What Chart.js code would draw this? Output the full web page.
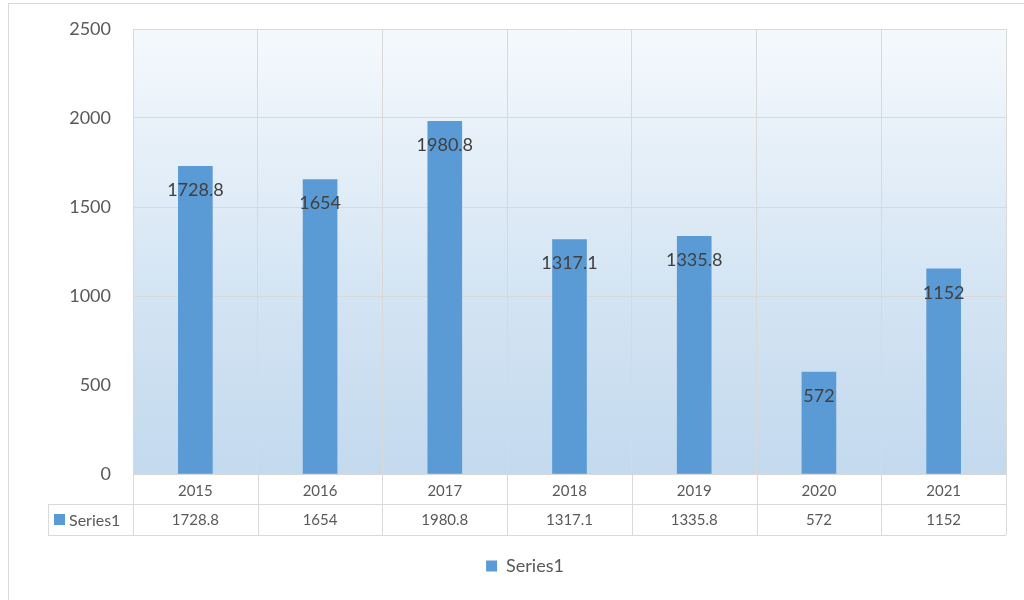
<!DOCTYPE html>
<html>
<head>
<meta charset="utf-8">
<script src="https://cdn.jsdelivr.net/npm/chart.js@4.4.0/dist/chart.umd.min.js"></script>
<style>
  body { margin: 0; background: #fff; }
  #wrap { position: relative; width: 1024px; height: 600px; }
</style>
</head>
<body>
<div id="wrap"><canvas id="myChart"></canvas></div>
<script>
const years = ['2015', '2016', '2017', '2018', '2019', '2020', '2021'];
const series1 = [1728.8, 1654, 1980.8, 1317.1, 1335.8, 572, 1152];
const seriesName = 'Series1';
const yTicks = [0, 500, 1000, 1500, 2000, 2500];

const barColor = '#5b9bd5';
const lineColor = '#d9d9d9';
const textColor = '#595959';

Chart.defaults.font.family = 'Lato, "Open Sans", sans-serif';

const excelLook = {
  id: 'excelLook',
  afterLayout(chart) {
    // legend sits a little right of centre in the original
    chart.legend.left += 22;
    chart.legend.right += 22;
  },
  beforeDraw(chart) {
    const { ctx, chartArea: a } = chart;
    ctx.save();
    // outer frame
    ctx.strokeStyle = lineColor;
    ctx.lineWidth = 1;
    ctx.strokeRect(8.5, 3.5, 1100, 700);
    // plot background gradient
    const g = ctx.createLinearGradient(0, a.top, 0, a.bottom);
    g.addColorStop(0, '#f5f9fd');
    g.addColorStop(0.6, '#d3e4f3');
    g.addColorStop(1, '#c3d9ee');
    ctx.fillStyle = g;
    ctx.fillRect(a.left, a.top, a.right - a.left, a.bottom - a.top);
    ctx.restore();
  },
  afterDatasetsDraw(chart) {
    const { ctx } = chart;
    const meta = chart.getDatasetMeta(0);
    ctx.save();
    ctx.font = '18px Lato';
    ctx.fillStyle = '#404040';
    ctx.textAlign = 'center';
    ctx.textBaseline = 'middle';
    meta.data.forEach((bar, i) => {
      ctx.fillText(String(series1[i]), bar.x, bar.y + 24);
    });
    ctx.restore();
  },
  afterDraw(chart) {
    const { ctx, chartArea: a, scales: { x } } = chart;
    const row1 = a.bottom + 30;
    const row2 = a.bottom + 61;
    const tableLeft = 48;
    const half = (x.getPixelForValue(1) - x.getPixelForValue(0)) / 2;
    ctx.save();
    ctx.strokeStyle = lineColor;
    ctx.lineWidth = 1;
    ctx.beginPath();
    ctx.moveTo(a.left, a.bottom + 0.5); ctx.lineTo(a.right, a.bottom + 0.5);
    ctx.moveTo(tableLeft, row1 + 0.5); ctx.lineTo(a.right, row1 + 0.5);
    ctx.moveTo(tableLeft, row2 + 0.5); ctx.lineTo(a.right, row2 + 0.5);
    ctx.moveTo(tableLeft + 0.5, row1); ctx.lineTo(tableLeft + 0.5, row2);
    for (let i = 0; i <= years.length; i++) {
      const px = Math.round(x.getPixelForValue(i) - half) + 0.5;
      ctx.moveTo(px, a.bottom); ctx.lineTo(px, row2);
    }
    ctx.stroke();

    // legend key cell
    ctx.fillStyle = barColor;
    ctx.fillRect(54, row1 + 10, 11, 11);
    ctx.fillStyle = textColor;
    ctx.font = '16px Lato';
    ctx.textBaseline = 'middle';
    ctx.textAlign = 'left';
    ctx.fillText(seriesName, 69, (row1 + row2) / 2 + 1);

    // value row
    ctx.font = '15px Lato';
    ctx.textAlign = 'center';
    series1.forEach((v, i) => {
      ctx.fillText(String(v), x.getPixelForValue(i), (row1 + row2) / 2 + 1);
    });
    ctx.restore();
  }
};

const ctx = document.getElementById('myChart').getContext('2d');

new Chart(ctx, {
  type: 'bar',
  data: {
    labels: years,
    datasets: [{
      label: seriesName,
      data: series1,
      backgroundColor: barColor,
      borderWidth: 0,
      barThickness: 34
    }]
  },
  options: {
    responsive: true,
    maintainAspectRatio: false,
    animation: false,
    layout: { padding: { top: 29, right: 18, bottom: 15, left: 0 } },
    plugins: {
      legend: {
        position: 'bottom',
        labels: {
          color: textColor,
          font: { size: 18 },
          boxWidth: 11,
          boxHeight: 11,
          padding: 22
        }
      },
      tooltip: { enabled: false }
    },
    scales: {
      x: {
        grid: { color: lineColor, drawTicks: false, offset: true },
        border: { display: false },
        ticks: { color: textColor, font: { size: 15 }, padding: 8 },
        afterFit: s => { s.height = 61; }
      },
      y: {
        min: 0,
        max: 2500,
        afterBuildTicks: s => { s.ticks = yTicks.map(v => ({ value: v })); },
        grid: { color: lineColor, drawTicks: false },
        border: { display: false },
        ticks: { color: textColor, font: { size: 18 }, padding: 22, callback: v => String(v) },
        afterFit: s => { s.width = 133; s.paddingTop = 0; s.paddingBottom = 0; }
      }
    }
  },
  plugins: [excelLook]
});
</script>
</body>
</html>
